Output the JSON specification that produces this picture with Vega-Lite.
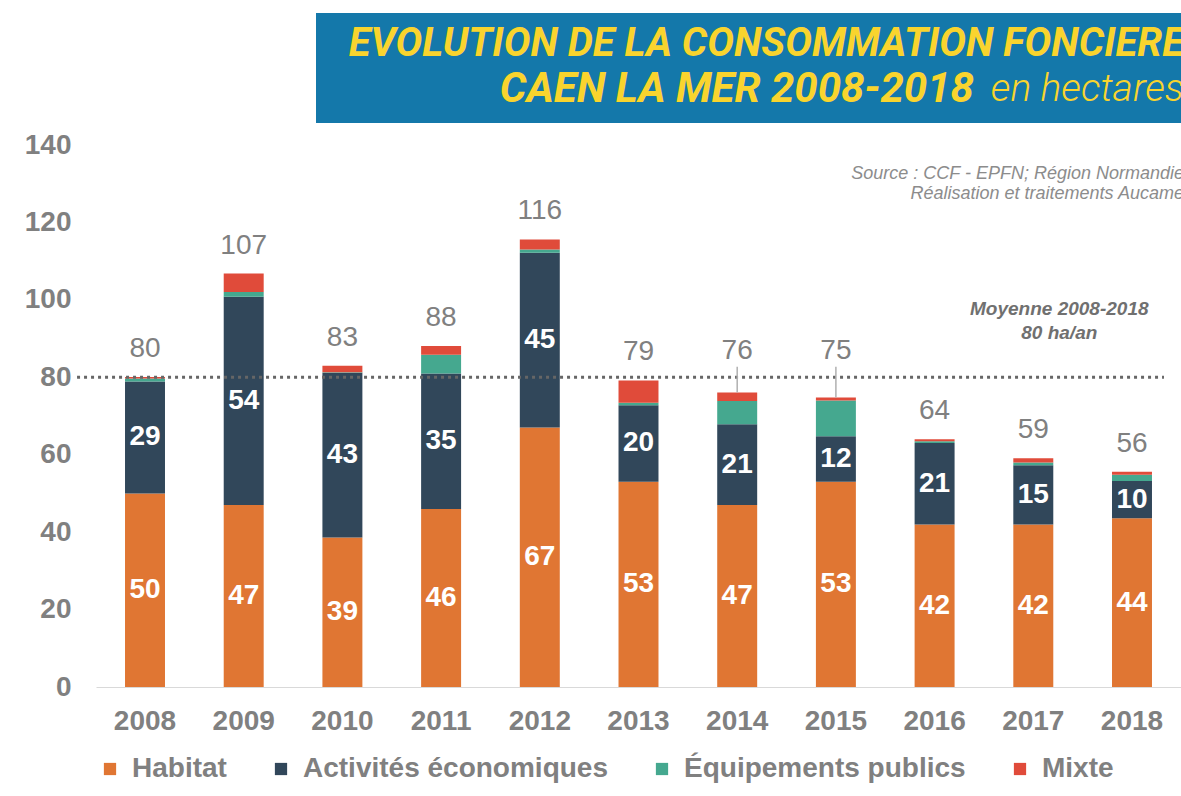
{
  "$schema": "https://vega.github.io/schema/vega-lite/v6.json",
  "background": "white",
  "autosize": {"type": "pad"},
  "padding": {"left": 24, "top": 13, "right": 0, "bottom": 0},
  "config": {"view": {"stroke": null}, "font": "Liberation Sans"},
  "datasets": {
    "bars": [
      {"year": "2008", "cat": "Habitat", "value": 50},
      {"year": "2008", "cat": "Activités économiques", "value": 28.9},
      {"year": "2008", "cat": "Équipements publics", "value": 0.8},
      {"year": "2008", "cat": "Mixte", "value": 0.4},
      {"year": "2009", "cat": "Habitat", "value": 47},
      {"year": "2009", "cat": "Activités économiques", "value": 53.8},
      {"year": "2009", "cat": "Équipements publics", "value": 1.2},
      {"year": "2009", "cat": "Mixte", "value": 4.8},
      {"year": "2010", "cat": "Habitat", "value": 38.6},
      {"year": "2010", "cat": "Activités économiques", "value": 42.6},
      {"year": "2010", "cat": "Équipements publics", "value": 0.1},
      {"year": "2010", "cat": "Mixte", "value": 1.7},
      {"year": "2011", "cat": "Habitat", "value": 46},
      {"year": "2011", "cat": "Activités économiques", "value": 35},
      {"year": "2011", "cat": "Équipements publics", "value": 4.8},
      {"year": "2011", "cat": "Mixte", "value": 2.3},
      {"year": "2012", "cat": "Habitat", "value": 67},
      {"year": "2012", "cat": "Activités économiques", "value": 45.2},
      {"year": "2012", "cat": "Équipements publics", "value": 0.8},
      {"year": "2012", "cat": "Mixte", "value": 2.6},
      {"year": "2013", "cat": "Habitat", "value": 53},
      {"year": "2013", "cat": "Activités économiques", "value": 19.8},
      {"year": "2013", "cat": "Équipements publics", "value": 0.6},
      {"year": "2013", "cat": "Mixte", "value": 5.8},
      {"year": "2014", "cat": "Habitat", "value": 47},
      {"year": "2014", "cat": "Activités économiques", "value": 20.9},
      {"year": "2014", "cat": "Équipements publics", "value": 6.0},
      {"year": "2014", "cat": "Mixte", "value": 2.2},
      {"year": "2015", "cat": "Habitat", "value": 53},
      {"year": "2015", "cat": "Activités économiques", "value": 11.8},
      {"year": "2015", "cat": "Équipements publics", "value": 9.2},
      {"year": "2015", "cat": "Mixte", "value": 0.8},
      {"year": "2016", "cat": "Habitat", "value": 42},
      {"year": "2016", "cat": "Activités économiques", "value": 21},
      {"year": "2016", "cat": "Équipements publics", "value": 0.5},
      {"year": "2016", "cat": "Mixte", "value": 0.5},
      {"year": "2017", "cat": "Habitat", "value": 42},
      {"year": "2017", "cat": "Activités économiques", "value": 15.3},
      {"year": "2017", "cat": "Équipements publics", "value": 0.7},
      {"year": "2017", "cat": "Mixte", "value": 1.1},
      {"year": "2018", "cat": "Habitat", "value": 43.6},
      {"year": "2018", "cat": "Activités économiques", "value": 9.6},
      {"year": "2018", "cat": "Équipements publics", "value": 1.6},
      {"year": "2018", "cat": "Mixte", "value": 0.8}
    ],
    "avg": [{"label": "Moyenne 2008-2018", "value": 80}]
  },
  "bounds": "full",
  "spacing": 8,
  "vconcat": [
    {
      "spacing": 0,
      "hconcat": [
        {"width": 220, "height": 110, "data": {"values": []}, "mark": {"type": "text"}, "encoding": {}},
        {
          "width": 865,
          "height": 110,
          "view": {"fill": "#1478AA", "stroke": null},
          "layer": [
            {
              "data": {"values": [{"line": "1", "t": "EVOLUTION DE LA CONSOMMATION FONCIERE"}]},
              "mark": {"type": "text", "align": "right", "baseline": "middle", "dx": 3, "font": "Roboto", "fontWeight": "bold", "fontStyle": "italic", "fontSize": 40, "color": "#F9D42E"},
              "encoding": {
                "x": {"datum": 1, "type": "quantitative", "scale": {"domain": [0, 1]}, "axis": null},
                "y": {"field": "line", "type": "ordinal", "scale": {"type": "point", "domain": ["1", "2"], "padding": 0.722, "align": 0.47}, "axis": null},
                "text": {"field": "t"}
              }
            },
            {
              "data": {"values": [{"line": "2", "t": "CAEN LA MER 2008-2018"}]},
              "mark": {"type": "text", "align": "right", "baseline": "middle", "dx": -207, "font": "Roboto", "fontWeight": "bold", "fontStyle": "italic", "fontSize": 42, "color": "#F9D42E"},
              "encoding": {
                "x": {"datum": 1, "type": "quantitative"},
                "y": {"field": "line", "type": "ordinal"},
                "text": {"field": "t"}
              }
            },
            {
              "data": {"values": [{"line": "2", "t": "en hectares"}]},
              "mark": {"type": "text", "align": "right", "baseline": "middle", "dx": 3, "font": "Roboto", "fontWeight": 300, "fontStyle": "italic", "fontSize": 39, "color": "#F9D42E"},
              "encoding": {
                "x": {"datum": 1, "type": "quantitative"},
                "y": {"field": "line", "type": "ordinal"},
                "text": {"field": "t"}
              }
            }
          ]
        }
      ]
    },
    {
      "width": 1085,
      "height": 542,
      "layer": [
        {
          "data": {"name": "bars"},
          "transform": [
            {"calculate": "indexof(['Habitat','Activités économiques','Équipements publics','Mixte'], datum.cat)", "as": "o"},
            {"stack": "value", "groupby": ["year"], "sort": [{"field": "o", "order": "ascending"}], "as": ["v0", "v1"]}
          ],
          "mark": {"type": "bar"},
          "encoding": {
            "x": {
              "field": "year", "type": "nominal",
              "scale": {"paddingInner": 0.595, "paddingOuter": 0.294},
              "axis": {"title": null, "ticks": false, "domain": true, "domainColor": "#d9d9d9", "labelAngle": 0, "labelPadding": 20, "labelFont": "Liberation Sans", "labelFontWeight": "bold", "labelFontSize": 28, "labelColor": "#808080"}
            },
            "y": {
              "field": "v1", "type": "quantitative",
              "scale": {"domain": [0, 140]},
              "axis": {"title": null, "values": [0, 20, 40, 60, 80, 100, 120, 140], "ticks": false, "domain": false, "grid": false, "labelPadding": 25, "labelFont": "Liberation Sans", "labelFontWeight": "bold", "labelFontSize": 28, "labelColor": "#808080"}
            },
            "y2": {"field": "v0"},
            "color": {
              "field": "cat", "type": "nominal",
              "scale": {"domain": ["Habitat", "Activités économiques", "Équipements publics", "Mixte"], "range": ["#E07633", "#31475A", "#45A88F", "#E04B3A"]},
              "legend": {"orient": "bottom", "direction": "horizontal", "title": null, "symbolType": "square", "symbolSize": 150, "symbolStrokeWidth": 0, "labelLimit": 0, "labelFont": "Liberation Sans", "labelFontSize": 28, "labelFontWeight": "bold", "labelColor": "#808080", "columnPadding": 40, "labelOffset": 8, "offset": 20}
            }
          }
        },
        {
          "data": {"name": "bars"},
          "transform": [
            {"calculate": "indexof(['Habitat','Activités économiques','Équipements publics','Mixte'], datum.cat)", "as": "o"},
            {"stack": "value", "groupby": ["year"], "sort": [{"field": "o", "order": "ascending"}], "as": ["v0", "v1"]},
            {"filter": "datum.o <= 1"},
            {"calculate": "(datum.v0 + datum.v1) / 2", "as": "mid"}
          ],
          "mark": {"type": "text", "baseline": "middle", "align": "center", "font": "Liberation Sans", "fontWeight": "bold", "fontSize": 28, "color": "white"},
          "encoding": {
            "x": {"field": "year", "type": "nominal"},
            "y": {"field": "mid", "type": "quantitative"},
            "text": {"field": "value", "type": "quantitative", "format": ".0f"}
          }
        },
        {
          "data": {"name": "avg"},
          "mark": {"type": "rule", "color": "#666666", "strokeWidth": 3, "strokeDash": [3, 4]},
          "encoding": {
            "y": {"field": "value", "type": "quantitative"},
            "x": {"datum": "2008", "bandPosition": -1.2},
            "x2": {"datum": "2018", "bandPosition": 1.3}
          }
        },
        {
          "data": {"name": "bars"},
          "transform": [
            {"aggregate": [{"op": "sum", "field": "value", "as": "total"}], "groupby": ["year"]},
            {"filter": "datum.total > 70 && datum.total < 79"}
          ],
          "mark": {"type": "rule", "color": "#b0b0b0", "strokeWidth": 1.5},
          "encoding": {
            "x": {"field": "year", "type": "nominal"},
            "y": {"field": "total", "type": "quantitative"},
            "y2": {"datum": 82.7}
          }
        },
        {
          "data": {"name": "bars"},
          "transform": [
            {"aggregate": [{"op": "sum", "field": "value", "as": "total"}], "groupby": ["year"]},
            {"calculate": "datum.total > 70 && datum.total < 79 ? 79.5 : datum.total", "as": "ly"}
          ],
          "mark": {"type": "text", "baseline": "middle", "align": "center", "dy": -28, "font": "Liberation Sans", "fontSize": 28, "color": "#808080"},
          "encoding": {
            "x": {"field": "year", "type": "nominal"},
            "y": {"field": "ly", "type": "quantitative"},
            "text": {"field": "total", "type": "quantitative", "format": ".0f"}
          }
        },
        {
          "data": {"values": [{"t": "Source : CCF - EPFN; Région Normandie\nRéalisation et traitements Aucame"}]},
          "mark": {"type": "text", "align": "right", "baseline": "alphabetic", "lineBreak": "\n", "lineHeight": 20, "dx": 32, "font": "Liberation Sans", "fontStyle": "italic", "fontSize": 18, "color": "#8c8c8c"},
          "encoding": {
            "x": {"datum": "2018", "bandPosition": 1},
            "y": {"datum": 131.2},
            "text": {"field": "t"}
          }
        },
        {
          "data": {"values": [{"t": "Moyenne 2008-2018\n80 ha/an"}]},
          "mark": {"type": "text", "align": "center", "baseline": "alphabetic", "lineBreak": "\n", "lineHeight": 24, "dx": 26, "font": "Liberation Sans", "fontStyle": "italic", "fontWeight": "bold", "fontSize": 19, "color": "#707070"},
          "encoding": {
            "x": {"datum": "2017", "bandPosition": 0.5},
            "y": {"datum": 96.1},
            "text": {"field": "t"}
          }
        }
      ]
    }
  ]
}
